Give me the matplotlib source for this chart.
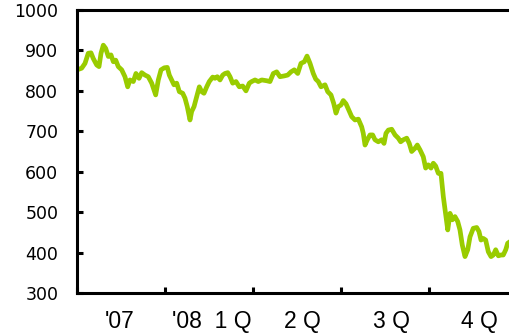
import matplotlib
matplotlib.use("Agg")
import matplotlib.pyplot as plt
from matplotlib.ticker import FixedLocator, NullFormatter, FixedFormatter

plt.rcParams['font.family'] = ['Liberation Sans', 'DejaVu Sans']

# Time measured in quarters from the start of 4Q 2007, with the index level
t = [0.000, 0.053, 0.091, 0.128, 0.159, 0.185, 0.224, 0.250, 0.273, 0.299,
     0.326, 0.356, 0.386, 0.413, 0.440, 0.469, 0.508, 0.545, 0.576, 0.602,
     0.640, 0.670, 0.705, 0.735, 0.773, 0.810, 0.849, 0.894, 0.924, 0.955,
     0.992, 1.026, 1.049, 1.076, 1.102, 1.133, 1.163, 1.201, 1.227, 1.253,
     1.284, 1.303, 1.330, 1.360, 1.390, 1.417, 1.443, 1.474, 1.503, 1.542,
     1.568, 1.594, 1.625, 1.656, 1.682, 1.713, 1.739, 1.769, 1.807, 1.844,
     1.883, 1.920, 1.958, 1.985, 2.023, 2.060, 2.099, 2.156, 2.193, 2.231,
     2.269, 2.307, 2.356, 2.394, 2.432, 2.469, 2.508, 2.545, 2.583, 2.614,
     2.648, 2.685, 2.713, 2.742, 2.773, 2.818, 2.849, 2.886, 2.917, 2.943,
     2.969, 3.000, 3.026, 3.057, 3.088, 3.122, 3.159, 3.197, 3.235, 3.253,
     3.273, 3.299, 3.330, 3.360, 3.386, 3.424, 3.462, 3.489, 3.511, 3.538,
     3.576, 3.614, 3.651, 3.678, 3.708, 3.747, 3.776, 3.803, 3.841, 3.867,
     3.898, 3.935, 3.962, 3.992, 4.023, 4.049, 4.076, 4.106, 4.136, 4.163,
     4.190, 4.213, 4.239, 4.265, 4.295, 4.326, 4.352, 4.378, 4.409, 4.440,
     4.466, 4.503, 4.542, 4.568, 4.591, 4.617, 4.644, 4.674, 4.705, 4.731,
     4.758, 4.788, 4.818, 4.844, 4.872, 4.894, 4.920]
index = [852, 856, 868, 893, 894, 880, 864, 860, 893, 913,
         905, 885, 889, 872, 876, 860, 852, 835, 810, 827,
         823, 843, 831, 845, 839, 835, 819, 790, 827, 852,
         857, 858, 839, 827, 815, 819, 798, 794, 782, 761,
         728, 749, 761, 786, 810, 798, 794, 810, 823, 834,
         831, 835, 827, 839, 843, 845, 835, 819, 823, 810,
         812, 800, 819, 823, 827, 823, 827, 825, 823, 843,
         847, 835, 837, 839, 847, 852, 843, 868, 872, 886,
         868, 843, 829, 823, 810, 815, 798, 790, 769, 745,
         761, 765, 776, 768, 753, 736, 728, 730, 711, 695,
         666, 679, 691, 691, 679, 674, 679, 670, 695, 703,
         705, 691, 683, 674, 679, 683, 670, 650, 658, 666,
         654, 637, 609, 617, 609, 621, 614, 596, 596, 538,
         493, 456, 497, 481, 489, 477, 456, 419, 390, 407,
         439, 460, 462, 452, 431, 435, 431, 402, 390, 394,
         407, 392, 394, 394, 407, 423, 427]

quarter_bounds = [0, 1, 2, 3, 4, 5]
label_pos = [0.49, 1.53, 2.56, 3.57, 4.57]
labels = ["'07", "'08  1 Q", "2 Q", "3 Q", "4 Q"]
y_ticks = [300, 400, 500, 600, 700, 800, 900, 1000]

fig = plt.figure(figsize=(5.10, 3.34), dpi=100)
ax = fig.add_axes([77 / 510, 41 / 334, 440 / 510, 283 / 334])

ax.plot(t, index, color='#99cc00', lw=3.4, solid_joinstyle='round',
        solid_capstyle='round')

ax.set_xlim(0, 5)
ax.set_ylim(300, 1000)
ax.set_yticks(y_ticks)

ax.xaxis.set_major_locator(FixedLocator(quarter_bounds))
ax.xaxis.set_major_formatter(NullFormatter())
ax.xaxis.set_minor_locator(FixedLocator(label_pos))
ax.xaxis.set_minor_formatter(FixedFormatter(labels))

ax.tick_params(axis='both', which='major', direction='in', length=4.5, width=2.2,
               colors='black', pad=13.5)
ax.tick_params(axis='y', labelsize=12.5)
ax.tick_params(axis='x', which='minor', length=0, labelsize=16.5, pad=12.5)
for lab in ax.get_yticklabels():
    lab.set_fontfamily('DejaVu Sans')

for s in ax.spines.values():
    s.set_linewidth(2.2)
    s.set_color('black')

fig.savefig('out.png', dpi=100)
